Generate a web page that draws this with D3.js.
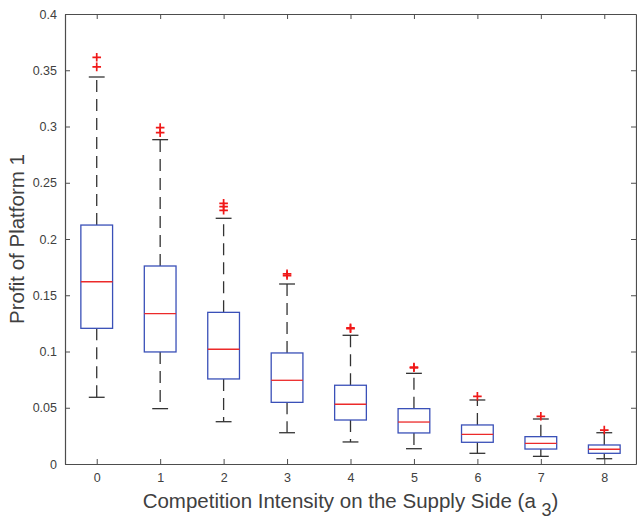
<!DOCTYPE html>
<html><head><meta charset="utf-8">
<script src="https://cdn.jsdelivr.net/npm/d3@7"></script>
<style>body{margin:0;background:#fff}svg{display:block}</style>
</head><body>
<script>
const categories = [0,1,2,3,4,5,6,7,8];
const whiskerLow  = [0.0593,0.0492,0.0376,0.0278,0.0196,0.0136,0.0095,0.0068,0.0047];
const q1          = [0.1206,0.0996,0.0756,0.0548,0.0391,0.0276,0.0193,0.0133,0.0095];
const median      = [0.1620,0.1336,0.1020,0.0744,0.0531,0.0373,0.0264,0.0184,0.0131];
const q3          = [0.2124,0.1760,0.1348,0.0987,0.0700,0.0492,0.0347,0.0243,0.0169];
const whiskerHigh = [0.3440,0.2883,0.2184,0.1600,0.1144,0.0806,0.0569,0.0400,0.0278];
const outliers    = [[0.3530,0.3615],[0.2945,0.2990],[0.2255,0.2287,0.2317],[0.1675,0.1690],[0.1203,0.1210],[0.0855,0.0862],[0.0602],[0.0424],[0.0302]];
const yTicks = [0,0.05,0.1,0.15,0.2,0.25,0.3,0.35,0.4];

const W=637,H=521, L=65,R=636,T=14,B=464;
const svg=d3.select("body").append("svg").attr("width",W).attr("height",H);
const x=d3.scaleLinear().domain([-0.5,8.5]).range([L,R]);
const y=d3.scaleLinear().domain([0,0.4]).range([B,T]);
const txt="#404040", ax="#4d4d4d";
const font="'Liberation Sans', Arial, Helvetica, sans-serif";

// axes
const gx=svg.append("g").attr("transform",`translate(0,${B})`)
  .call(d3.axisBottom(x).tickValues(categories).tickFormat(d3.format("d")).tickSizeInner(-5).tickSizeOuter(0).tickPadding(9));
const gxt=svg.append("g").attr("transform",`translate(0,${T})`)
  .call(d3.axisTop(x).tickValues(categories).tickFormat("").tickSizeInner(-5).tickSizeOuter(0));
const gy=svg.append("g").attr("transform",`translate(${L},0)`)
  .call(d3.axisLeft(y).tickValues(yTicks).tickFormat(d=>d===0?"0":String(d)).tickSizeInner(-5).tickSizeOuter(0).tickPadding(8));
const gyr=svg.append("g").attr("transform",`translate(${R},0)`)
  .call(d3.axisRight(y).tickValues(yTicks).tickFormat("").tickSizeInner(-5).tickSizeOuter(0));
[gx,gxt,gy,gyr].forEach(g=>{
  g.select(".domain").attr("stroke",ax).attr("stroke-width",1.2);
  g.selectAll(".tick line").attr("stroke",ax).attr("stroke-width",1);
  g.selectAll(".tick text").attr("fill",txt).style("font-family",font).style("font-size","12.5px");
});

const bw = x(0.25)-x(0);   // half box width
const cw = x(0.125)-x(0);  // half cap width
const boxes=svg.append("g");
categories.forEach((c,i)=>{
  const cx=x(c);
  const g=boxes.append("g");
  g.append("line").attr("x1",cx).attr("x2",cx).attr("y1",y(q3[i])).attr("y2",y(whiskerHigh[i]))
    .attr("stroke","#333").attr("stroke-width",1.3).attr("stroke-dasharray","12,7");
  g.append("line").attr("x1",cx).attr("x2",cx).attr("y1",y(q1[i])).attr("y2",y(whiskerLow[i]))
    .attr("stroke","#333").attr("stroke-width",1.3).attr("stroke-dasharray","12,7");
  [whiskerHigh[i],whiskerLow[i]].forEach(v=>{
    g.append("line").attr("x1",cx-cw).attr("x2",cx+cw).attr("y1",y(v)).attr("y2",y(v))
      .attr("stroke","#333").attr("stroke-width",1.3);
  });
  g.append("rect").attr("x",cx-bw).attr("width",2*bw).attr("y",y(q3[i])).attr("height",y(q1[i])-y(q3[i]))
    .attr("fill","none").attr("stroke","#3a50b8").attr("stroke-width",1.3);
  g.append("line").attr("x1",cx-bw).attr("x2",cx+bw).attr("y1",y(median[i])).attr("y2",y(median[i]))
    .attr("stroke","#ec2a2a").attr("stroke-width",1.3);
  outliers[i].forEach(v=>{
    const py=y(v), s=4.3;
    g.append("path").attr("d",`M${cx-s},${py}H${cx+s}M${cx},${py-s}V${py+s}`)
      .attr("stroke","#f01818").attr("stroke-width",1.7).attr("fill","none");
  });
});

svg.append("text").attr("transform",`translate(24,${(T+B)/2}) rotate(-90)`).attr("text-anchor","middle")
  .attr("fill",txt).style("font-family",font).style("font-size","20.5px").text("Profit of Platform 1");
const xl=svg.append("text").attr("x",(L+R)/2).attr("y",508).attr("text-anchor","middle")
  .attr("fill",txt).style("font-family",font).style("font-size","20.5px");
xl.append("tspan").text("Competition Intensity on the Supply Side (a ");
xl.append("tspan").attr("dy",8).style("font-size","18px").text("3");
xl.append("tspan").attr("dy",-8).text(")");
</script>
</body></html>
